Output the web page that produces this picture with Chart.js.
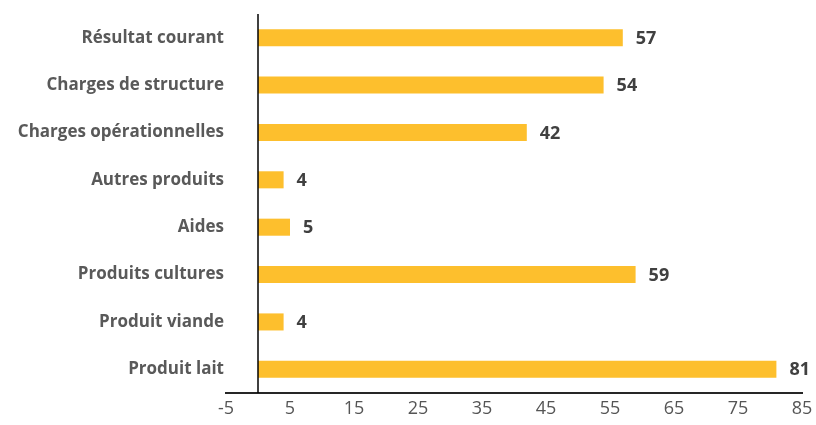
<!DOCTYPE html>
<html>
<head>
<meta charset="utf-8">
<script src="https://cdn.jsdelivr.net/npm/chart.js@4/dist/chart.umd.min.js"></script>
<style>
  html, body { margin: 0; padding: 0; background: #fff; }
  #wrap { width: 816px; height: 425px; position: relative; }
</style>
</head>
<body>
<div id="wrap"><canvas id="chart"></canvas></div>
<script>
// Chart data (top to bottom)
const categories = [
  'Résultat courant',
  'Charges de structure',
  'Charges opérationnelles',
  'Autres produits',
  'Aides',
  'Produits cultures',
  'Produit viande',
  'Produit lait'
];
const values = [57, 54, 42, 4, 5, 59, 4, 81];
const xTicks = [-5, 5, 15, 25, 35, 45, 55, 65, 75, 85];

const FONT = "'Open Sans', 'Noto Sans', sans-serif";

// zero line + value labels
const extras = {
  id: 'extras',
  afterDraw(chart) {
    const ctx = chart.ctx;
    const x = chart.scales.x;
    const area = chart.chartArea;
    const x0 = x.getPixelForValue(0);
    ctx.save();
    ctx.strokeStyle = '#000';
    ctx.lineWidth = 1.5;
    ctx.beginPath();
    ctx.moveTo(x0, area.top);
    ctx.lineTo(x0, area.bottom);
    ctx.stroke();

    ctx.fillStyle = '#404040';
    ctx.font = 'bold 18px ' + FONT;
    ctx.textBaseline = 'middle';
    ctx.textAlign = 'left';
    chart.getDatasetMeta(0).data.forEach((bar, i) => {
      ctx.fillText(String(values[i]), bar.x + 13, bar.y + 1);
    });
    ctx.restore();
  }
};

new Chart(document.getElementById('chart'), {
  type: 'bar',
  data: {
    labels: categories,
    datasets: [{
      data: values,
      backgroundColor: '#FDBF2D',
      categoryPercentage: 0.36,
      barPercentage: 1
    }]
  },
  options: {
    indexAxis: 'y',
    responsive: true,
    maintainAspectRatio: false,
    animation: false,
    layout: { padding: { left: 6, right: 14, top: 14, bottom: 0 } },
    plugins: {
      legend: { display: false },
      tooltip: { enabled: false }
    },
    scales: {
      x: {
        min: -5,
        max: 85,
        afterBuildTicks: (scale) => {
          scale.ticks = xTicks.map(v => ({ value: v }));
        },
        afterFit: (scale) => {
          scale.paddingLeft = 0;
          scale.paddingRight = 0;
        },
        grid: { display: false, drawTicks: false },
        border: { display: true, color: '#262626', width: 2 },
        ticks: {
          color: '#555',
          padding: 7,
          font: { family: FONT, size: 18, lineHeight: 1 }
        }
      },
      y: {
        afterFit: (scale) => { scale.width = 220; },
        grid: { display: false, drawTicks: false },
        border: { display: false },
        ticks: {
          color: '#595959',
          padding: 2,
          font: { family: FONT, size: 17, weight: 'bold' }
        }
      }
    }
  },
  plugins: [extras]
});
</script>
</body>
</html>
